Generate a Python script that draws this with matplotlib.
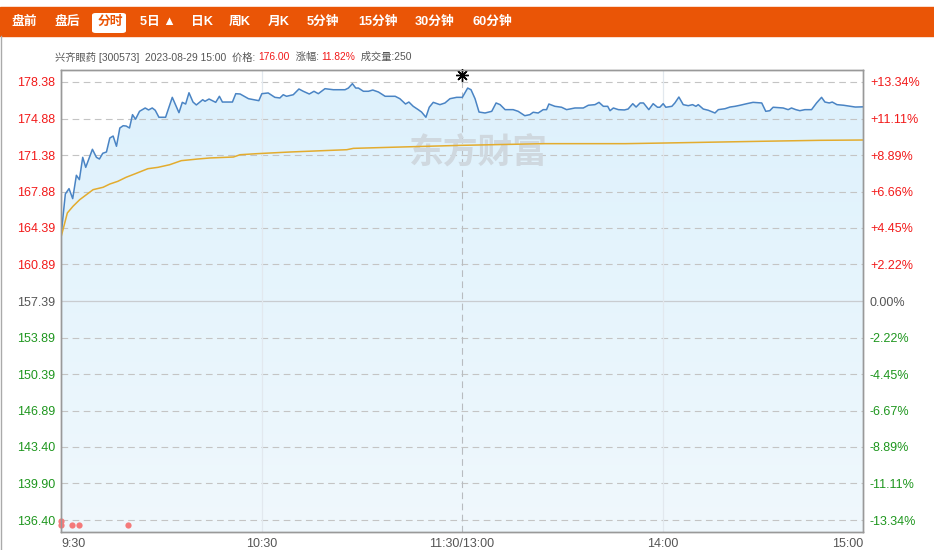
"""
Intraday (分时) chart for 兴齐眼药 300573, 2023-08-29.
Writes out.png (934x550).
"""

import numpy as np
import matplotlib
matplotlib.use("Agg")
import matplotlib.pyplot as plt
from matplotlib.colors import LinearSegmentedColormap
from matplotlib.patches import FancyBboxPatch, Rectangle

plt.rcParams["font.family"] = ["Liberation Sans", "Noto Sans CJK SC", "DejaVu Sans"]

PREV_CLOSE = 157.39

# minute index from 9:30 (0) to 15:00 (240), lunch break collapsed
price_t = [0, 1.3, 2.4, 3.5, 4.6, 5.5, 6.5, 7.4, 9.4, 10.6, 11.5, 12.5, 13.6, 14.6,
           15.6, 16.6, 17.6, 18.6, 19.5, 20.5, 21.4, 22.3, 23.5, 25.2, 26.2, 27.3,
           28.2, 29.3, 31.3, 33.3, 35.3, 36.3, 37.3, 38.3, 39.5, 40.5, 42.4, 43.1,
           44.3, 45.3, 46.3, 47.4, 48.3, 51.3, 52.3, 53.6, 56.1, 59.2, 60.1, 62.0,
           64.0, 65.5, 66.5, 67.5, 69.5, 71.2, 72.5, 74.3, 75.7, 77.0, 79.0, 81.5,
           85.0, 86.0, 87.2, 88.2, 89.0, 90.5, 92.0, 93.3, 95.0, 97.0, 100.0, 101.4,
           103.1, 104.1, 105.4, 106.9, 107.9, 109.2, 110.2, 111.4, 113.4, 114.9,
           116.4, 118.4, 120.1, 121.7, 122.7, 123.9, 125.1, 126.9, 128.9, 130.2,
           131.4, 132.9, 135.3, 136.8, 138.8, 140.3, 141.3, 142.8, 144.3, 145.3,
           146.0, 147.8, 149.8, 151.3, 153.8, 156.3, 157.8, 159.8, 161.0, 162.3,
           163.6, 164.3, 165.3, 166.8, 168.6, 169.7, 171.1, 172.1, 173.3, 174.3,
           175.9, 177.2, 178.5, 179.2, 180.2, 181.0, 182.8, 183.7, 184.9, 186.2,
           187.7, 189.0, 190.0, 190.7, 192.2, 193.7, 195.7, 196.7, 198.7, 200.2,
           201.7, 203.2, 205.2, 207.1, 209.7, 210.9, 212.1, 213.1, 216.1, 217.6,
           218.6, 219.9, 221.1, 222.6, 224.6, 226.1, 227.6, 228.6, 229.9, 230.8,
           232.2, 234.2, 236.2, 237.7, 240]
price = [163.62, 167.65, 168.16, 167.20, 169.44, 169.02, 171.16, 170.20, 171.93,
         171.16, 171.00, 171.55, 171.67, 173.01, 173.20, 172.22, 173.97, 174.19,
         174.16, 173.97, 175.25, 174.81, 175.57, 175.89, 175.70, 175.89, 175.67,
         175.00, 175.00, 176.91, 175.44, 176.43, 176.27, 177.35, 176.46, 176.18,
         176.68, 176.53, 176.75, 176.59, 176.43, 177.01, 176.46, 176.46, 177.26,
         177.23, 176.78, 176.59, 177.26, 177.33, 176.91, 176.85, 177.16, 177.01,
         177.16, 177.71, 177.49, 177.23, 177.49, 177.26, 177.74, 177.64, 177.64,
         177.80, 178.22, 177.80, 177.80, 177.49, 177.49, 177.61, 177.42, 177.01,
         177.01, 176.78, 176.27, 176.46, 176.05, 175.73, 175.50, 175.00, 175.96,
         176.43, 176.21, 176.37, 176.78, 176.91, 176.91, 177.80, 177.64, 176.78,
         175.50, 175.41, 175.57, 176.37, 176.21, 175.73, 175.73, 175.57, 175.15,
         175.25, 175.48, 175.41, 175.73, 175.73, 176.27, 176.05, 175.96, 175.73,
         175.89, 175.89, 176.15, 176.21, 176.43, 176.05, 176.05, 175.63, 175.89,
         175.73, 175.70, 175.79, 176.30, 175.98, 176.37, 176.37, 175.73, 176.30,
         175.96, 175.96, 176.30, 175.96, 176.05, 176.37, 176.94, 176.21, 176.11,
         176.21, 176.05, 176.21, 175.79, 175.67, 175.41, 175.73, 175.82, 175.98,
         176.05, 176.15, 176.30, 176.43, 176.37, 175.57, 175.63, 175.96, 175.89,
         175.73, 175.89, 175.73, 175.63, 175.73, 175.73, 176.37, 176.91, 176.46,
         176.37, 176.46, 176.21, 176.15, 176.05, 175.98, 176.00]

avg_t = [0, 1.9, 3.6, 5.6, 7.6, 9.6, 12.6, 14.6, 17.0, 19.5, 22.0, 26.0, 29.0,
         32.5, 36.0, 41.0, 44.6, 51.6, 53.6, 58.6, 68.5, 78.5, 85.5, 87.5, 98.4,
         119.9, 144.8, 168.8, 180.2, 210.1, 227.1, 240]
avg_price = [163.50, 165.83, 166.47, 167.10, 167.58, 168.06, 168.29, 168.60, 168.86,
             169.25, 169.56, 170.07, 170.20, 170.45, 170.84, 171.00, 171.10, 171.19,
             171.41, 171.51, 171.67, 171.80, 171.89, 172.02, 172.12, 172.31, 172.47,
             172.47, 172.53, 172.70, 172.79, 172.82]

dot_t = [0, 0, 3.3, 5.4, 20.0]
dot_y = [136.30, 135.92, 135.92, 135.92, 135.92]

star_t, star_y = 120, 179.05

left_ticks = [178.38, 174.88, 171.38, 167.88, 164.39, 160.89, 157.39,
              153.89, 150.39, 146.89, 143.40, 139.90, 136.40]
right_labels = ["+13.34%", "+11.11%", "+8.89%", "+6.66%", "+4.45%", "+2.22%", "0.00%",
                "-2.22%", "-4.45%", "-6.67%", "-8.89%", "-11.11%", "-13.34%"]
x_ticks = [0, 60, 120, 180, 240]
x_labels = ["9:30", "10:30", "11:30/13:00", "14:00", "15:00"]

tabs = ["盘前", "盘后", "分时", "5日 ▲", "日K", "周K", "月K", "5分钟", "15分钟", "30分钟", "60分钟"]
tab_x = [11, 54, 98, 140, 191, 229, 268, 307, 358, 415, 472]
active_tab = "分时"

RED, GREEN, GREY = "#f21a1a", "#1e961e", "#555555"
ORANGE = "#ea5506"
W, H = 934, 550

fig = plt.figure(figsize=(W / 100, H / 100), dpi=100)

# top tab bar
fig.patches.append(Rectangle((0, 1 - 36 / H), 1, 29 / H, transform=fig.transFigure,
                             color=ORANGE, zorder=0))
fig.add_artist(plt.Line2D([0.5 / W, 0.5 / W], [0, 1 - 36 / H], color="#aaaaaa", lw=1))
for name, x in zip(tabs, tab_x):
    if name == active_tab:
        fig.patches.append(FancyBboxPatch((92 / W, 1 - 33 / H), 34 / W, 20 / H,
                                          boxstyle="round,pad=0,rounding_size=0.004",
                                          transform=fig.transFigure, fc="white", ec="none"))
        c = ORANGE
    else:
        c = "white"
    fig.text(x / W, 1 - 21.5 / H, name, color=c, fontsize=9.2, fontweight="bold",
             va="center", ha="left")

# info line
parts = [("兴齐眼药 [300573]  2023-08-29 15:00  价格: ", GREY), ("176.00", RED),
         ("  涨幅: ", GREY), ("11.82%", RED), ("  成交量:250", GREY)]
tx = 55 / W
for s, c in parts:
    t = fig.text(tx, 1 - 57 / H, s, color=c, fontsize=7.4, va="center", ha="left")
    fig.canvas.draw()
    bb = t.get_window_extent()
    tx = bb.x1 / W

ax = fig.add_axes([61 / W, 18 / H, 802 / W, 462 / H])
ymin, ymax = 135.25, 179.53

# gradient fill under price line
poly = ax.fill_between(price_t, price, ymin, color="none", lw=0)
cmap = LinearSegmentedColormap.from_list("fill", ["#f0f8fd", "#ddf1fc"])
grad = np.linspace(0, 1, 256).reshape(-1, 1)
img = ax.imshow(grad, extent=[0, 240, ymin, ymax], origin="lower", aspect="auto",
                cmap=cmap, zorder=1)
img.set_clip_path(poly.get_paths()[0], transform=ax.transData)

for y in left_ticks:
    if y == PREV_CLOSE:
        ax.axhline(y, color="#c9ccd0", lw=0.9, zorder=2)
    else:
        ax.axhline(y, color="#c4c4c4", lw=0.8, ls=(0, (6, 4)), zorder=2)
ax.axvline(60, color="#e2e8ee", lw=0.9, zorder=2)
ax.axvline(180, color="#e2e8ee", lw=0.9, zorder=2)
ax.axvline(120, color="#b8bcc0", lw=0.8, ls=(0, (6, 4)), zorder=2)

ax.text(0.52, 0.822, "东方财富", transform=ax.transAxes, fontsize=25, fontweight="bold",
        color="#cfd8df", ha="center", va="center", zorder=2,
        family=["Noto Sans CJK SC"])

ax.plot(price_t, price, color="#4a84c4", lw=1.1, zorder=4)
ax.plot(avg_t, avg_price, color="#e3ac2e", lw=1.1, zorder=4)
ax.plot(dot_t, dot_y, "o", color="#f47a7a", ms=4.5, mec="none", zorder=5, clip_on=False)
ax.plot([star_t], [star_y], marker=(8, 2, 0), color="black", ms=9, mew=1.0, zorder=6,
        clip_on=False)

ax.set_xlim(0, 240)
ax.set_ylim(ymin, ymax)

ax.set_yticks(left_ticks)
ax.set_yticklabels([f"{v:.2f}" for v in left_ticks])
for lab, v in zip(ax.get_yticklabels(), left_ticks):
    lab.set_color(RED if v > PREV_CLOSE else GREEN if v < PREV_CLOSE else GREY)

ax.set_xticks(x_ticks)
ax.set_xticklabels(x_labels)
xl = ax.get_xticklabels()
xl[0].set_ha("left")
xl[-1].set_ha("right")
for lab in xl:
    lab.set_color(GREY)
ax.tick_params(axis="both", length=0, labelsize=9)
ax.tick_params(axis="y", pad=4)
ax.tick_params(axis="x", pad=4)

ax2 = ax.twinx()
ax2.set_ylim(ymin, ymax)
ax2.set_yticks(left_ticks)
ax2.set_yticklabels(right_labels)
for lab, v in zip(ax2.get_yticklabels(), left_ticks):
    lab.set_color(RED if v > PREV_CLOSE else GREEN if v < PREV_CLOSE else GREY)
ax2.tick_params(axis="y", length=0, labelsize=9, pad=5)

for a in (ax, ax2):
    for sp in a.spines.values():
        sp.set_color("#999999")
        sp.set_linewidth(1)

fig.savefig("out.png", dpi=100)
